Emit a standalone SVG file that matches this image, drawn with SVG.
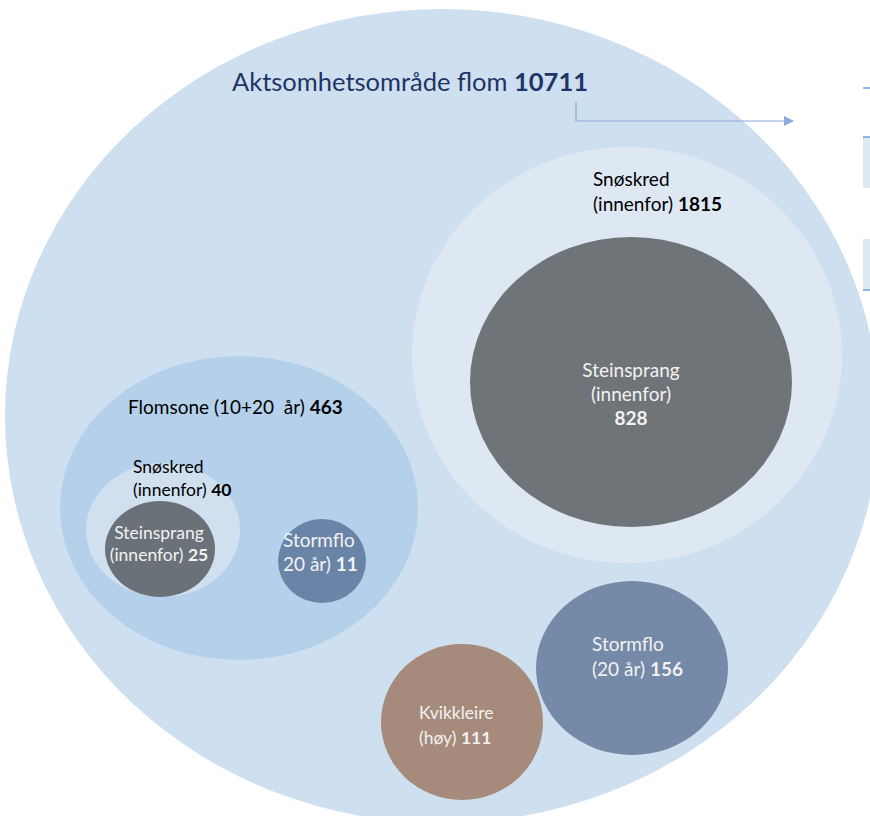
<svg xmlns="http://www.w3.org/2000/svg" width="870" height="816" viewBox="0 0 870 816">
<defs>
<style>
text{font-family:Lato,"Open Sans","Liberation Sans",sans-serif;}
.dk{fill:#000000;font-size:19px;}
.wt{fill:#F2F2F2;font-size:19px;}
.b{font-weight:bold;}
.title{fill:#1F3466;font-size:25.5px;}
.conn{stroke:#8EA9DB;stroke-width:1.2;fill:none;}
</style>
<marker id="arr" markerWidth="10" markerHeight="10" refX="9" refY="5" orient="auto" markerUnits="userSpaceOnUse">
<path d="M0,0 L10,5 L0,10 Z" fill="#8EA9DB"/>
</marker>
</defs>
<rect width="870" height="816" fill="#FFFFFF"/>
<g id="edge-bits">
<line x1="863" y1="88" x2="870" y2="88" stroke="#6FA0D8" stroke-width="1.5"/>
<rect x="863" y="137" width="7" height="51" fill="#DEE8F3"/>
<line x1="863" y1="137" x2="870" y2="137" stroke="#6FA0D8" stroke-width="1.5"/>
<rect x="863" y="239" width="7" height="51" fill="#DEE8F3"/>
<line x1="863" y1="290" x2="870" y2="290" stroke="#6FA0D8" stroke-width="1.5"/>
</g>
<g id="aktsomhet">
<ellipse cx="442" cy="416" rx="437" ry="407" fill="#CEDFF0"/>
<text class="title" x="232" y="91">Aktsomhetsområde flom <tspan class="b">10711</tspan></text>
</g>
<g id="connectors">
<path class="conn" d="M576,102 L576,121 L793,121" marker-end="url(#arr)"/>
</g>
<g id="snoskred">
<ellipse cx="627" cy="355" rx="215" ry="208" fill="#DDE8F3"/>
<text class="dk" x="593" y="186">Snøskred</text>
<text class="dk" x="593" y="211">(innenfor) <tspan class="b">1815</tspan></text>
</g>
<g id="steinsprang">
<ellipse cx="631" cy="382" rx="161" ry="145" fill="#6F7478"/>
<text class="wt" text-anchor="middle" x="631" y="377">Steinsprang</text>
<text class="wt" text-anchor="middle" x="631" y="401">(innenfor)</text>
<text class="wt b" text-anchor="middle" x="631" y="425">828</text>
</g>
<g id="flomsone">
<ellipse cx="239" cy="508" rx="179" ry="152" fill="#B4D0EA"/>
<text class="dk" x="128" y="414" style="white-space:pre">Flomsone (10+20  år) <tspan class="b">463</tspan></text>
</g>
<g id="snoskred-small">
<ellipse cx="163" cy="530" rx="77" ry="67" fill="#D0E0EF"/>
<text class="dk" x="133" y="473" style="font-size:17.5px">Snøskred</text>
<text class="dk" x="133" y="496" style="font-size:17.5px">(innenfor) <tspan class="b">40</tspan></text>
</g>
<g id="steinsprang-small">
<ellipse cx="160" cy="549" rx="55" ry="48" fill="#6A7178"/>
<text class="wt" text-anchor="middle" x="159" y="539" style="font-size:17.5px">Steinsprang</text>
<text class="wt" text-anchor="middle" x="159" y="561" style="font-size:17.5px">(innenfor) <tspan class="b">25</tspan></text>
</g>
<g id="stormflo-small">
<ellipse cx="322" cy="561" rx="44" ry="42" fill="#6A84A8"/>
<text class="wt" x="283" y="547">Stormflo</text>
<text class="wt" x="283" y="571">20 år) <tspan class="b">11</tspan></text>
</g>
<g id="kvikkleire">
<ellipse cx="462" cy="722" rx="81" ry="78" fill="#A68A7B"/>
<text class="wt" x="419" y="719" style="font-size:17.5px">Kvikkleire</text>
<text class="wt" x="419" y="744" style="font-size:17.5px">(høy) <tspan class="b">111</tspan></text>
</g>
<g id="stormflo">
<ellipse cx="632" cy="668" rx="96" ry="87" fill="#7589A8"/>
<text class="wt" x="592" y="651">Stormflo</text>
<text class="wt" x="592" y="676">(20 år) <tspan class="b">156</tspan></text>
</g>
</svg>
